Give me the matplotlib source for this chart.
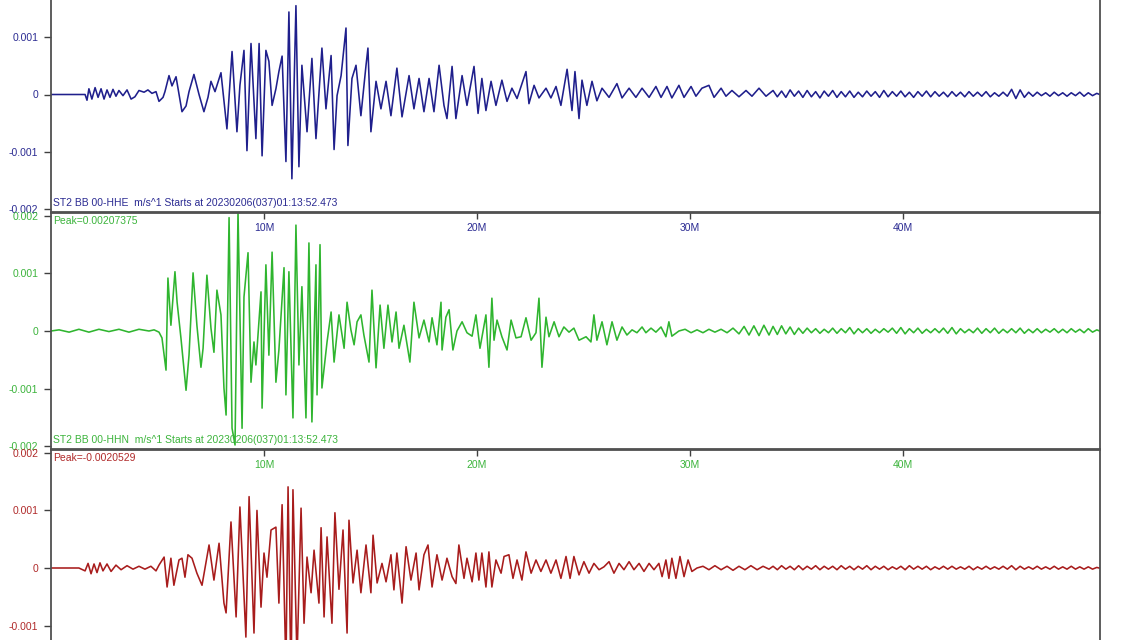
import matplotlib
matplotlib.use("Agg")
import matplotlib.pyplot as plt

plt.rcParams.update({
    "font.family": ["Liberation Sans", "DejaVu Sans"],
    "font.size": 7.5,
    "axes.linewidth": 1.3,
    "axes.edgecolor": "#505050",
    "figure.facecolor": "white",
})

# amplitudes below are in units of 0.001 m/s, times in minutes after start
AMP_UNIT = 0.001

BLUE_T = [0.00, 1.60, 1.69, 1.78, 1.92, 2.07, 2.21, 2.35, 2.49, 2.63,
          2.77, 2.91, 3.05, 3.19, 3.38, 3.57, 3.76, 3.94, 4.13, 4.37,
          4.55, 4.74, 4.93, 5.07, 5.26, 5.35, 5.54, 5.68, 5.87, 6.15,
          6.34, 6.48, 6.71, 6.95, 7.18, 7.37, 7.51, 7.70, 7.98, 8.26,
          8.50, 8.73, 8.87, 9.06, 9.20, 9.39, 9.62, 9.77, 9.91, 10.09,
          10.23, 10.38, 10.56, 10.70, 10.85, 11.03, 11.17, 11.31, 11.50, 11.64,
          11.78, 12.02, 12.25, 12.44, 12.72, 12.91, 13.15, 13.29, 13.43, 13.62,
          13.85, 13.94, 14.13, 14.32, 14.55, 14.79, 14.88, 15.02, 15.26, 15.49,
          15.73, 15.96, 16.24, 16.48, 16.81, 17.04, 17.28, 17.51, 17.75, 17.98,
          18.22, 18.45, 18.59, 18.83, 19.01, 19.30, 19.53, 19.86, 20.05, 20.23,
          20.42, 20.66, 20.89, 21.17, 21.41, 21.64, 21.88, 22.30, 22.44, 22.68,
          22.91, 23.24, 23.47, 23.71, 23.94, 24.23, 24.46, 24.60, 24.79, 24.93,
          25.16, 25.40, 25.63, 25.87, 26.20, 26.57, 26.81, 27.14, 27.46, 27.75,
          28.08, 28.40, 28.64, 28.92, 29.15, 29.48, 29.72, 30.05, 30.28, 30.56,
          30.89, 31.13, 31.46, 31.69, 31.97, 32.30, 32.63, 32.91, 33.24, 33.57]
BLUE_A = [0.00, 0.00, -0.10, 0.10, -0.08, 0.12, -0.05, 0.10, -0.08, 0.08,
          -0.05, 0.09, -0.03, 0.07, -0.02, 0.08, -0.08, -0.04, 0.07, 0.04,
          0.08, 0.02, 0.05, -0.12, -0.05, 0.05, 0.33, 0.15, 0.31, -0.30,
          -0.20, 0.05, 0.35, 0.00, -0.30, -0.05, 0.23, 0.05, 0.38, -0.60,
          0.75, -0.65, 0.16, 0.77, -0.98, 0.89, -0.77, 0.89, -1.07, 0.77,
          0.58, -0.19, 0.10, 0.40, 0.67, -1.17, 1.44, -1.47, 1.55, -1.26,
          0.51, -0.65, 0.63, -0.77, 0.81, -0.25, 0.68, -0.96, -0.02, 0.33,
          1.16, -0.89, 0.28, 0.51, -0.37, 0.51, 0.81, -0.65, 0.23, -0.25,
          0.23, -0.37, 0.46, -0.39, 0.33, -0.25, 0.28, -0.30, 0.28, -0.30,
          0.51, -0.19, -0.42, 0.49, -0.42, 0.33, -0.19, 0.49, -0.33, 0.28,
          -0.28, 0.23, -0.19, 0.25, -0.12, 0.11, -0.07, 0.40, -0.16, 0.16,
          -0.06, 0.11, -0.06, 0.14, -0.19, 0.44, -0.28, 0.40, -0.42, 0.25,
          -0.19, 0.23, -0.11, 0.11, -0.05, 0.19, -0.06, 0.11, -0.05, 0.11,
          -0.05, 0.14, -0.05, 0.14, -0.06, 0.16, -0.05, 0.14, -0.03, 0.11,
          0.16, -0.05, 0.11, -0.03, 0.07, -0.04, 0.07, -0.03, 0.11, -0.03]

GREEN_T = [0.00, 0.38, 0.85, 1.31, 1.78, 2.25, 2.72, 3.19, 3.66, 4.13,
           4.60, 4.84, 5.07, 5.21, 5.40, 5.49, 5.63, 5.82, 5.92, 6.10,
           6.34, 6.48, 6.67, 6.85, 7.04, 7.14, 7.32, 7.51, 7.65, 7.79,
           7.98, 8.12, 8.22, 8.36, 8.50, 8.64, 8.78, 8.97, 9.06, 9.25,
           9.39, 9.53, 9.62, 9.86, 9.91, 10.09, 10.23, 10.38, 10.56, 10.70,
           10.94, 11.03, 11.17, 11.36, 11.50, 11.64, 11.78, 11.97, 12.11, 12.25,
           12.44, 12.49, 12.63, 12.72, 12.96, 13.15, 13.29, 13.52, 13.76, 13.90,
           14.08, 14.23, 14.37, 14.55, 14.69, 14.93, 15.07, 15.26, 15.45, 15.63,
           15.82, 16.01, 16.20, 16.34, 16.57, 16.85, 17.04, 17.28, 17.51, 17.75,
           17.89, 18.12, 18.31, 18.36, 18.54, 18.69, 18.87, 19.06, 19.30, 19.53,
           19.77, 19.95, 20.14, 20.42, 20.56, 20.70, 20.80, 20.94, 21.17, 21.41,
           21.60, 21.83, 22.07, 22.30, 22.54, 22.77, 22.91, 23.05, 23.24, 23.38,
           23.62, 23.85, 24.08, 24.32, 24.55, 24.79, 25.12, 25.35, 25.49, 25.63,
           25.87, 26.10, 26.34, 26.57, 26.81, 27.04, 27.28, 27.51, 27.75, 27.93,
           28.17, 28.40, 28.64, 28.87, 29.01, 29.15, 29.48, 29.77, 30.05, 30.33,
           30.61, 30.89, 31.17, 31.46, 31.74, 32.02, 32.30, 32.54, 32.77, 33.00,
           33.24, 33.47, 33.71]
GREEN_A = [0.00, 0.02, -0.02, 0.03, -0.02, 0.03, -0.01, 0.03, -0.02, 0.03,
           0.00, 0.02, -0.02, -0.12, -0.68, 0.92, 0.10, 1.03, 0.50, -0.12,
           -1.03, -0.42, 1.01, 0.10, -0.63, -0.30, 0.97, 0.05, -0.37, 0.71,
           0.28, -0.99, -1.46, 1.97, -1.69, -1.98, 2.07, -1.69, 0.59, 1.36,
           -0.89, -0.19, -0.59, 0.68, -1.34, 1.15, -0.42, 1.37, -0.89, -0.33,
           1.10, -1.11, 1.03, -1.51, 1.84, -0.59, 0.77, -1.51, 1.53, -1.58,
           1.15, -1.11, 1.50, -0.99, -0.19, 0.33, -0.54, 0.28, -0.30, 0.50,
           0.02, -0.24, 0.16, 0.28, -0.07, -0.54, 0.71, -0.64, 0.45, -0.30,
           0.45, -0.19, 0.33, -0.30, 0.10, -0.54, 0.50, -0.12, 0.19, -0.19,
           0.23, -0.24, 0.50, -0.33, 0.24, 0.37, -0.33, 0.00, 0.16, -0.03,
           -0.09, 0.28, -0.30, 0.28, -0.63, 0.57, -0.16, 0.19, -0.10, -0.33,
           0.19, -0.12, -0.10, 0.23, -0.16, -0.03, 0.57, -0.63, 0.24, -0.10,
           0.16, -0.10, 0.07, -0.02, 0.05, -0.16, -0.10, -0.19, 0.28, -0.16,
           0.16, -0.24, 0.16, -0.16, 0.07, -0.07, 0.02, -0.03, 0.07, -0.03,
           0.05, -0.02, 0.07, -0.10, 0.16, -0.09, 0.00, 0.03, -0.03, 0.02,
           -0.03, 0.03, -0.02, 0.03, -0.03, 0.05, -0.05, 0.08, -0.07, 0.09,
           -0.08, 0.10, -0.07]

RED_T = [0.00, 1.31, 1.60, 1.74, 1.88, 2.02, 2.16, 2.30, 2.44, 2.63,
         2.82, 3.05, 3.29, 3.57, 3.85, 4.13, 4.41, 4.69, 4.93, 5.07,
         5.31, 5.45, 5.63, 5.77, 6.01, 6.15, 6.29, 6.43, 6.62, 6.85,
         7.09, 7.42, 7.65, 7.89, 8.12, 8.22, 8.45, 8.69, 8.87, 9.15,
         9.30, 9.53, 9.67, 9.86, 10.00, 10.14, 10.33, 10.56, 10.70, 10.85,
         11.03, 11.13, 11.27, 11.36, 11.55, 11.74, 11.88, 12.02, 12.21, 12.35,
         12.58, 12.68, 12.82, 12.96, 13.19, 13.33, 13.52, 13.71, 13.90, 13.99,
         14.18, 14.37, 14.55, 14.79, 15.02, 15.12, 15.31, 15.54, 15.73, 15.96,
         16.10, 16.24, 16.48, 16.67, 16.90, 17.14, 17.28, 17.51, 17.70, 17.89,
         18.12, 18.36, 18.54, 18.59, 18.83, 19.01, 19.15, 19.39, 19.53, 19.77,
         19.95, 20.09, 20.23, 20.42, 20.56, 20.70, 20.89, 21.13, 21.27, 21.50,
         21.69, 21.88, 22.11, 22.30, 22.54, 22.77, 23.00, 23.24, 23.47, 23.71,
         23.94, 24.18, 24.37, 24.55, 24.79, 25.02, 25.26, 25.49, 25.73, 25.96,
         26.20, 26.43, 26.67, 26.90, 27.14, 27.37, 27.61, 27.84, 28.08, 28.31,
         28.54, 28.69, 28.87, 29.01, 29.15, 29.34, 29.53, 29.72, 29.91, 30.09,
         30.33, 30.61, 30.89, 31.17, 31.46, 31.74, 32.02, 32.30, 32.58, 32.86,
         33.15, 33.43, 33.71]
RED_A = [0.00, 0.00, -0.05, 0.08, -0.10, 0.07, -0.08, 0.09, -0.05, 0.07,
         -0.06, 0.05, -0.03, 0.04, -0.02, 0.03, -0.02, 0.03, -0.05, 0.05,
         0.19, -0.33, 0.17, -0.30, 0.14, 0.17, -0.16, 0.23, 0.17, -0.09,
         -0.30, 0.40, -0.21, 0.43, -0.61, -0.78, 0.80, -0.85, 1.06, -1.20,
         1.24, -1.13, 1.00, -0.68, 0.26, -0.16, 0.66, 0.71, -0.61, 1.10,
         -1.75, 1.41, -2.05, 1.36, -1.60, 1.04, -0.96, 0.19, -0.43, 0.31,
         -0.61, 0.70, -0.85, 0.54, -0.96, 0.96, -0.37, 0.66, -1.13, 0.83,
         -0.26, 0.31, -0.43, 0.40, -0.43, 0.57, -0.26, 0.08, -0.24, 0.23,
         -0.38, 0.26, -0.61, 0.37, -0.21, 0.26, -0.38, 0.23, 0.40, -0.33,
         0.23, -0.21, 0.08, 0.17, -0.15, -0.27, 0.40, -0.18, 0.17, -0.24,
         0.26, -0.21, 0.26, -0.33, 0.28, -0.33, 0.14, -0.09, 0.20, 0.23,
         -0.18, 0.14, -0.21, 0.28, -0.09, 0.14, -0.06, 0.14, -0.09, 0.14,
         -0.18, 0.20, -0.18, 0.20, -0.12, 0.11, -0.09, 0.08, -0.03, 0.02,
         0.11, -0.09, 0.08, -0.03, 0.11, -0.03, 0.08, -0.06, 0.08, -0.03,
         0.08, -0.15, 0.14, -0.18, 0.17, -0.18, 0.20, -0.15, 0.14, -0.06,
         0.00, 0.03, -0.03, 0.04, -0.03, 0.03, -0.04, 0.03, -0.03, 0.04,
         -0.03, 0.03, -0.02]

# coda, same time points for the three traces
TAIL_T = [33.9, 34.1, 34.3, 34.5, 34.7, 34.9, 35.1, 35.3, 35.5, 35.7,
          35.9, 36.1, 36.3, 36.5, 36.7, 36.9, 37.1, 37.3, 37.5, 37.7,
          37.9, 38.1, 38.3, 38.5, 38.7, 38.9, 39.1, 39.3, 39.5, 39.7,
          39.9, 40.1, 40.3, 40.5, 40.7, 40.9, 41.1, 41.3, 41.5, 41.7,
          41.9, 42.1, 42.3, 42.5, 42.7, 42.9, 43.1, 43.3, 43.5, 43.7,
          43.9, 44.1, 44.3, 44.5, 44.7, 44.9, 45.1, 45.3, 45.5, 45.7,
          45.9, 46.1, 46.3, 46.5, 46.7, 46.9, 47.1, 47.3, 47.5, 47.7,
          47.9, 48.1, 48.3, 48.5, 48.7, 48.9, 49.1, 49.3]
BLUE_TAIL = [0.07, -0.04, 0.06, -0.05, 0.08, -0.03, 0.06, -0.05, 0.07, -0.04,
             0.05, -0.06, 0.06, -0.03, 0.07, -0.05, 0.05, -0.04, 0.06, -0.05,
             0.04, -0.04, 0.06, -0.03, 0.05, -0.05, 0.07, -0.04, 0.05, -0.03,
             0.06, -0.04, 0.04, -0.05, 0.05, -0.03, 0.06, -0.04, 0.05, -0.03,
             0.04, -0.04, 0.05, -0.03, 0.04, -0.04, 0.05, -0.03, 0.04, -0.03,
             0.05, -0.04, 0.03, -0.03, 0.04, -0.03, 0.09, -0.07, 0.08, -0.05,
             0.04, -0.03, 0.04, -0.02, 0.03, -0.03, 0.04, -0.02, 0.03, -0.03,
             0.03, -0.02, 0.04, -0.03, 0.03, -0.02, 0.02, -0.01]
GREEN_TAIL = [0.08, -0.06, 0.09, -0.05, 0.07, -0.06, 0.05, -0.04, 0.05, -0.03,
              0.04, -0.04, 0.03, -0.03, 0.05, -0.04, 0.04, -0.03, 0.06, -0.05,
              0.04, -0.03, 0.04, -0.04, 0.03, -0.03, 0.04, -0.02, 0.05, -0.04,
              0.06, -0.05, 0.04, -0.03, 0.05, -0.04, 0.03, -0.03, 0.04, -0.03,
              0.05, -0.04, 0.06, -0.05, 0.04, -0.03, 0.03, -0.03, 0.05, -0.04,
              0.04, -0.03, 0.05, -0.04, 0.03, -0.03, 0.04, -0.03, 0.05, -0.04,
              0.03, -0.03, 0.04, -0.03, 0.03, -0.02, 0.04, -0.03, 0.03, -0.03,
              0.04, -0.02, 0.03, -0.03, 0.04, -0.02, 0.02, -0.01]
RED_TAIL = [0.03, -0.03, 0.04, -0.02, 0.03, -0.03, 0.04, -0.03, 0.03, -0.02,
            0.04, -0.03, 0.03, -0.02, 0.03, -0.03, 0.04, -0.02, 0.03, -0.03,
            0.03, -0.02, 0.04, -0.03, 0.03, -0.02, 0.03, -0.03, 0.02, -0.02,
            0.03, -0.03, 0.04, -0.02, 0.03, -0.02, 0.03, -0.03, 0.02, -0.02,
            0.03, -0.02, 0.03, -0.02, 0.02, -0.02, 0.03, -0.03, 0.02, -0.02,
            0.03, -0.02, 0.02, -0.02, 0.03, -0.02, 0.04, -0.03, 0.03, -0.02,
            0.02, -0.02, 0.03, -0.02, 0.02, -0.02, 0.03, -0.02, 0.02, -0.02,
            0.03, -0.02, 0.02, -0.02, 0.02, -0.02, 0.01, -0.01]

Y_TICKS = [-0.002, -0.001, 0, 0.001, 0.002]
Y_LABELS = ["-0.002", "-0.001", "0", "0.001", "0.002"]
X_TICKS = [10, 20, 30, 40]
X_LABELS = ["10M", "20M", "30M", "40M"]
START = "Starts at 20230206(037)01:13:52.473"

PANELS = [
    (BLUE_T, BLUE_A, BLUE_TAIL, "#1f1f8c", "#2b2b92", "ST2 BB 00-HHE", "Peak=0.0015493"),
    (GREEN_T, GREEN_A, GREEN_TAIL, "#2fb52f", "#3cb43c", "ST2 BB 00-HHN", "Peak=0.00207375"),
    (RED_T, RED_A, RED_TAIL, "#a81c1c", "#b02a2a", "ST2 BB 00-HHZ", "Peak=-0.0020529"),
]

W, H = 1140, 640
fig = plt.figure(figsize=(W / 100, H / 100), dpi=100)

# panel pixel extents (top, bottom); the first one runs above the image
BOUNDS = [(-23, 212), (213, 449), (450, 686)]
left, right = 51, 1100

for (tt, aa, tail, col, tcol, name, peak), (top, bot) in zip(PANELS, BOUNDS):
    ax = fig.add_axes([left / W, 1 - bot / H, (right - left) / W, (bot - top) / H])
    ax.set_facecolor("none")
    t = tt + TAIL_T
    y = [v * AMP_UNIT for v in aa + tail]
    ax.plot(t, y, color=col, lw=1.15)
    ax.set_xlim(0, 49.25)
    ax.set_ylim(-0.00205, 0.00205)
    ax.set_yticks(Y_TICKS)
    ax.set_yticklabels(Y_LABELS)
    ax.set_xticks(X_TICKS)
    ax.set_xticklabels(X_LABELS)
    ax.tick_params(axis="both", direction="out", length=5, width=1,
                   color="#404040", labelcolor=tcol, labelsize=7.5)
    ax.tick_params(axis="x", pad=3)
    ax.tick_params(axis="y", pad=4)
    ax.text(0.002, 0.038, name + "  m/s^1 " + START, transform=ax.transAxes,
            color=tcol, fontsize=7.5, va="center", ha="left")
    ax.text(0.002, 0.966, peak, transform=ax.transAxes,
            color=tcol, fontsize=7.5, va="center", ha="left")

fig.savefig("out.png", dpi=100)
